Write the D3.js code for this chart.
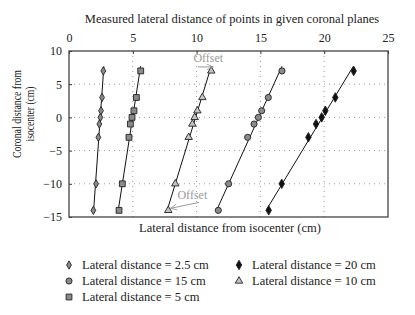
<!DOCTYPE html>
<html>
<head>
<meta charset="utf-8">
<script src="https://cdn.jsdelivr.net/npm/d3@7"></script>
<style>
  body { margin: 0; background: #fff; }
  svg text { font-family: "Liberation Serif", "DejaVu Serif", serif; fill: #222; }
</style>
</head>
<body>
<svg id="chart" width="415" height="315"></svg>
<script>
// coronal planes (cm) where points were measured
const coronal = [7, 3, 1, 0, -1, -3, -10, -14];

// measured lateral distances (cm), one array per series
const lat2_5 = [2.69, 2.59, 2.51, 2.46, 2.38, 2.30, 2.12, 1.91];
const lat5   = [5.62, 5.28, 5.09, 4.94, 4.81, 4.70, 4.18, 3.92];
const lat10  = [11.15, 10.45, 10.06, 9.85, 9.67, 9.38, 8.33, 7.78];
const lat15  = [16.69, 15.62, 15.10, 14.84, 14.50, 14.00, 12.51, 11.70];
const lat20  = [22.31, 20.87, 20.09, 19.80, 19.36, 18.76, 16.67, 15.65];

const xTicks = [0, 5, 10, 15, 20, 25];
const yTicks = [10, 5, 0, -5, -10, -15];

const series = [
  { name: "Lateral distance = 2.5 cm", values: lat2_5, shape: d3.symbolDiamond, size: 20, fill: "#8a8a8a" },
  { name: "Lateral distance = 15 cm",  values: lat15,  shape: d3.symbolCircle,  size: 30, fill: "#8a8a8a" },
  { name: "Lateral distance = 5 cm",   values: lat5,   shape: d3.symbolSquare,  size: 34, fill: "#8a8a8a" },
  { name: "Lateral distance = 20 cm",  values: lat20,  shape: d3.symbolDiamond, size: 26, fill: "#111" },
  { name: "Lateral distance = 10 cm",  values: lat10,  shape: d3.symbolTriangle, size: 24, fill: "#c4c4c4" }
];

const svg = d3.select("#chart");
const pLeft = 69, pRight = 388, pTop = 51, pBottom = 217;

const x = d3.scaleLinear().domain([0, 25]).range([pLeft, pRight]);
const y = d3.scaleLinear().domain([-15, 10]).range([pBottom, pTop]);

// title
svg.append("text")
  .attr("x", 232).attr("y", 23)
  .attr("text-anchor", "middle")
  .style("font-size", "12.5px")
  .text("Measured lateral distance of points in given coronal planes");

// grid (dotted)
const grid = svg.append("g").attr("stroke", "#9a9a9a").attr("stroke-dasharray", "1,4");
grid.selectAll("line.v")
  .data(xTicks.slice(1, -1))
  .join("line")
  .attr("x1", d => x(d)).attr("x2", d => x(d))
  .attr("y1", pTop).attr("y2", pBottom);
grid.selectAll("line.h")
  .data(yTicks.slice(1, -1))
  .join("line")
  .attr("x1", pLeft).attr("x2", pRight)
  .attr("y1", d => y(d)).attr("y2", d => y(d));

// axes: top and left, with frame
const topAxis = svg.append("g")
  .attr("transform", `translate(0,${pTop})`)
  .call(d3.axisTop(x).tickValues(xTicks).tickSize(-3).tickPadding(9));
const leftAxis = svg.append("g")
  .attr("transform", `translate(${pLeft},0)`)
  .call(d3.axisLeft(y).tickValues(yTicks).tickSize(-3).tickPadding(7)
    .tickFormat(d => d < 0 ? "\u2212" + Math.abs(d) : d));
[topAxis, leftAxis].forEach(a => {
  a.select(".domain").remove();
  a.selectAll("line").attr("stroke", "#333");
  a.selectAll("text").style("font-size", "12px").attr("fill", "#222")
    .style("font-family", '"Liberation Serif", serif');
});

svg.append("rect")
  .attr("x", pLeft).attr("y", pTop)
  .attr("width", pRight - pLeft).attr("height", pBottom - pTop)
  .attr("fill", "none").attr("stroke", "#444").attr("stroke-width", 1.3);

// fit lines (least squares of lateral on coronal)
function fit(vals) {
  const my = d3.mean(coronal), mx = d3.mean(vals);
  let sxy = 0, syy = 0;
  coronal.forEach((c, i) => { sxy += (c - my) * (vals[i] - mx); syy += (c - my) * (c - my); });
  const b = sxy / syy;
  return c => mx + b * (c - my);
}

const plot = svg.append("g");
series.forEach(s => {
  const f = fit(s.values);
  plot.append("line")
    .attr("x1", x(f(-14))).attr("y1", y(-14))
    .attr("x2", x(f(7.7))).attr("y2", y(7.7))
    .attr("stroke", "#111").attr("stroke-width", 1);
});

series.forEach(s => {
  plot.selectAll(null)
    .data(s.values.map((v, i) => [v, coronal[i]]))
    .join("path")
    .attr("transform", d => `translate(${x(d[0])},${y(d[1])})`)
    .attr("d", d3.symbol(s.shape, s.size))
    .attr("fill", s.fill)
    .attr("stroke", "#222").attr("stroke-width", 0.9);
});

// "Offset" annotations
const note = svg.append("g");
svg.append("defs").append("marker")
  .attr("id", "arr").attr("viewBox", "0 0 10 10")
  .attr("refX", 9).attr("refY", 5)
  .attr("markerWidth", 7).attr("markerHeight", 7)
  .attr("orient", "auto")
  .append("path").attr("d", "M0,1 L9,5 L0,9").attr("fill", "none").attr("stroke", "#999").attr("stroke-width", 1.2);

note.append("text").attr("x", x(9.75)).attr("y", y(8.3))
  .style("font-size", "12px").style("fill", "#9a9a9a").text("Offset");
note.append("line")
  .attr("x1", x(10.1)).attr("y1", y(7.6))
  .attr("x2", x(11.3)).attr("y2", y(7.6))
  .attr("stroke", "#999").attr("stroke-width", 1)
  .attr("marker-end", "url(#arr)");

note.append("text").attr("x", x(8.5)).attr("y", y(-12.3))
  .style("font-size", "12px").style("fill", "#9a9a9a").text("Offset");
note.append("line")
  .attr("x1", x(10.2)).attr("y1", y(-12.8))
  .attr("x2", x(7.95)).attr("y2", y(-13.7))
  .attr("stroke", "#999").attr("stroke-width", 1)
  .attr("marker-end", "url(#arr)");

// axis titles
svg.append("text")
  .attr("x", 230).attr("y", 232)
  .attr("text-anchor", "middle")
  .style("font-size", "12.5px")
  .text("Lateral distance from isocenter (cm)");

const yt = svg.append("g")
  .attr("transform", "translate(21,114) rotate(-90)")
  .style("font-size", "11.5px");
yt.append("text").attr("x", 0).attr("y", 0)
  .attr("text-anchor", "middle")
  .attr("textLength", 88).attr("lengthAdjust", "spacingAndGlyphs")
  .text("Coronal distance from");
yt.append("text").attr("x", 0).attr("y", 12.5)
  .attr("text-anchor", "middle")
  .attr("textLength", 55).attr("lengthAdjust", "spacingAndGlyphs")
  .text("isocenter (cm)");

// legend
const legendPos = [[69, 265], [69, 281], [69, 297], [239, 265], [239, 281]];
const legend = svg.append("g");
series.forEach((s, i) => {
  const [lx, ly] = legendPos[i];
  legend.append("path")
    .attr("transform", `translate(${lx},${ly})`)
    .attr("d", d3.symbol(s.shape, s.size))
    .attr("fill", s.fill)
    .attr("stroke", "#222").attr("stroke-width", 0.9);
  legend.append("text")
    .attr("x", lx + 13).attr("y", ly + 4)
    .style("font-size", "12.5px")
    .text(s.name);
});
</script>
</body>
</html>
